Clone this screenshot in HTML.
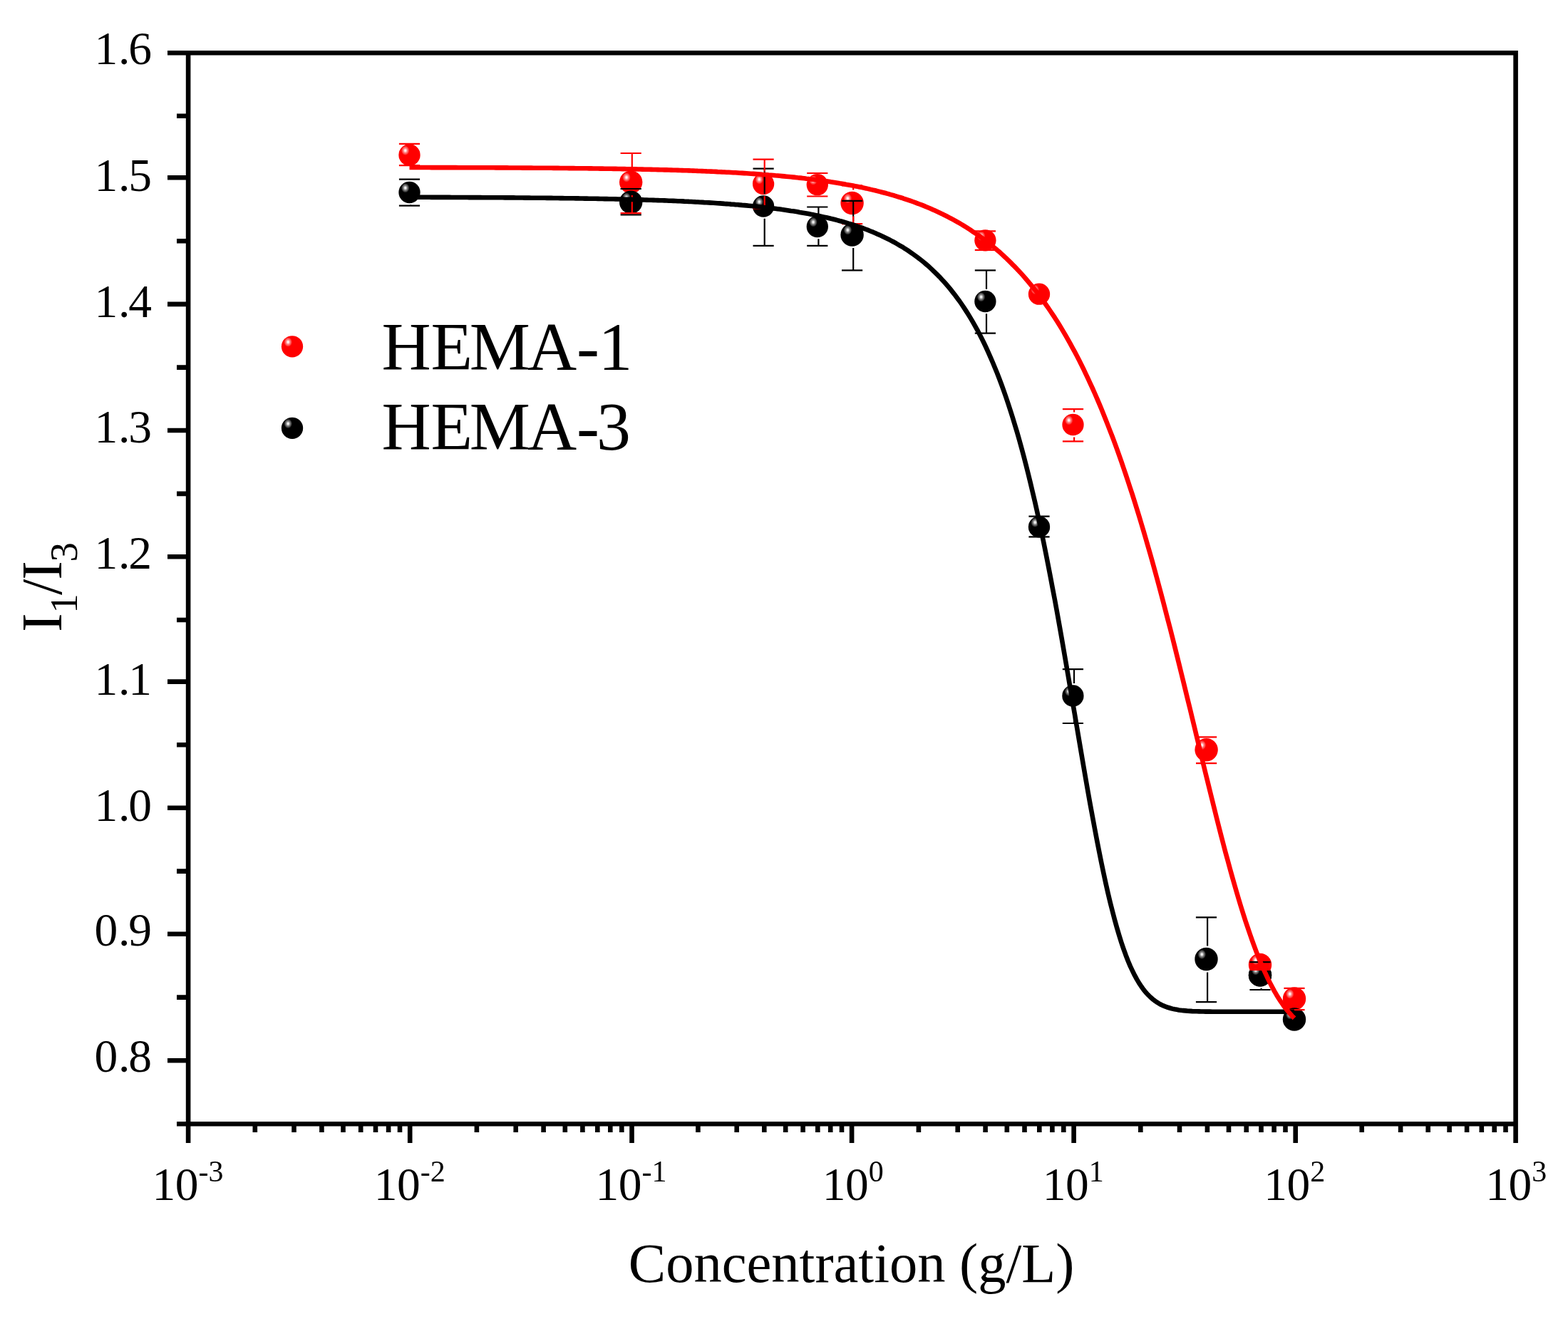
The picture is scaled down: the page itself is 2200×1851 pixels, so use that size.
<!DOCTYPE html>
<html lang="en"><head><meta charset="utf-8"><title>I1/I3 vs Concentration</title>
<style>html,body{margin:0;padding:0;background:#fff}body{width:2200px;height:1851px;overflow:hidden}svg{display:block}text{font-family:"Liberation Serif",serif;fill:#000}</style>
</head><body>
<svg width="2200" height="1851" viewBox="0 0 2200 1851">
<defs>
<radialGradient id="hl" cx="0.5" cy="0.5" r="0.5"><stop offset="0" stop-color="#fff" stop-opacity="1"/><stop offset="0.18" stop-color="#fff" stop-opacity="0.92"/><stop offset="0.45" stop-color="#fff" stop-opacity="0.55"/><stop offset="0.8" stop-color="#fff" stop-opacity="0.22"/><stop offset="1" stop-color="#fff" stop-opacity="0"/></radialGradient>
</defs>
<rect width="2200" height="1851" fill="#fff"/>
<g id="balls">
<circle cx="574.5" cy="217.5" r="15.15" fill="#f00"/><ellipse cx="568.7" cy="211.2" rx="5.8" ry="6.8" fill="url(#hl)"/>
<circle cx="885.2" cy="255.6" r="16.2" fill="#f00"/><ellipse cx="879.0" cy="248.9" rx="5.8" ry="6.8" fill="url(#hl)"/>
<circle cx="1071.1" cy="258.0" r="15.15" fill="#f00"/><ellipse cx="1065.3" cy="251.7" rx="5.8" ry="6.8" fill="url(#hl)"/>
<circle cx="1146.8" cy="259.2" r="15.15" fill="#f00"/><ellipse cx="1141.0" cy="252.9" rx="5.8" ry="6.8" fill="url(#hl)"/>
<circle cx="1195.6" cy="285.0" r="16.2" fill="#f00"/><ellipse cx="1189.4" cy="278.3" rx="5.8" ry="6.8" fill="url(#hl)"/>
<circle cx="1382.4" cy="337.3" r="15.15" fill="#f00"/><ellipse cx="1376.6" cy="331.0" rx="5.8" ry="6.8" fill="url(#hl)"/>
<circle cx="1458.0" cy="412.7" r="15.15" fill="#f00"/><ellipse cx="1452.2" cy="406.4" rx="5.8" ry="6.8" fill="url(#hl)"/>
<circle cx="1505.5" cy="596.0" r="15.15" fill="#f00"/><ellipse cx="1499.7" cy="589.7" rx="5.8" ry="6.8" fill="url(#hl)"/>
<circle cx="1692.6" cy="1052.3" r="16.2" fill="#f00"/><ellipse cx="1686.4" cy="1045.6" rx="5.8" ry="6.8" fill="url(#hl)"/>
<circle cx="1816.0" cy="1401.5" r="16.2" fill="#f00"/><ellipse cx="1809.8" cy="1394.8" rx="5.8" ry="6.8" fill="url(#hl)"/>
<circle cx="574.5" cy="270.0" r="15.15" fill="#000"/><ellipse cx="568.7" cy="263.7" rx="5.8" ry="6.8" fill="url(#hl)"/>
<circle cx="885.2" cy="283.7" r="16.2" fill="#000"/><ellipse cx="879.0" cy="277.0" rx="5.8" ry="6.8" fill="url(#hl)"/>
<circle cx="1071.1" cy="289.5" r="15.15" fill="#000"/><ellipse cx="1065.3" cy="283.2" rx="5.8" ry="6.8" fill="url(#hl)"/>
<circle cx="1146.8" cy="318.0" r="15.15" fill="#000"/><ellipse cx="1141.0" cy="311.7" rx="5.8" ry="6.8" fill="url(#hl)"/>
<circle cx="1195.6" cy="329.5" r="16.2" fill="#000"/><ellipse cx="1189.4" cy="322.8" rx="5.8" ry="6.8" fill="url(#hl)"/>
<circle cx="1382.4" cy="423.0" r="15.15" fill="#000"/><ellipse cx="1376.6" cy="416.7" rx="5.8" ry="6.8" fill="url(#hl)"/>
<circle cx="1458.0" cy="739.4" r="15.15" fill="#000"/><ellipse cx="1452.2" cy="733.1" rx="5.8" ry="6.8" fill="url(#hl)"/>
<circle cx="1505.4" cy="976.5" r="15.15" fill="#000"/><ellipse cx="1499.6" cy="970.2" rx="5.8" ry="6.8" fill="url(#hl)"/>
<circle cx="1692.5" cy="1346.0" r="16.2" fill="#000"/><ellipse cx="1686.3" cy="1339.3" rx="5.8" ry="6.8" fill="url(#hl)"/>
<circle cx="1768.0" cy="1368.4" r="16.2" fill="#000"/><ellipse cx="1761.8" cy="1361.7" rx="5.8" ry="6.8" fill="url(#hl)"/>
<circle cx="1816.0" cy="1430.5" r="16.2" fill="#000"/><ellipse cx="1809.8" cy="1423.8" rx="5.8" ry="6.8" fill="url(#hl)"/>
<clipPath id="c70"><rect x="1740" y="1362" width="60" height="40"/></clipPath>
<circle cx="1768.0" cy="1354.0" r="16.2" fill="#f00"/><ellipse cx="1761.8" cy="1347.3" rx="5.8" ry="6.8" fill="url(#hl)"/>
<g clip-path="url(#c70)"><circle cx="1768.0" cy="1368.4" r="16.2" fill="#000"/><ellipse cx="1761.8" cy="1361.7" rx="5.8" ry="6.8" fill="url(#hl)"/></g>
</g>
<path d="M559.9,251.6H589.1M559.9,288.6H589.1M576.1,251.6V252.7M576.1,287.3V288.6M870.6,265.0H899.8M870.6,301.4H899.8M886.8,265.0V265.3M1056.5,236.7H1085.7M1056.5,344.8H1085.7M1072.7,236.7V272.2M1072.7,306.8V344.8M1132.2,290.5H1161.4M1132.2,344.8H1161.4M1148.4,290.5V300.7M1148.4,335.3V344.8M1181.0,281.9H1210.2M1181.0,379.4H1210.2M1197.2,281.9V311.1M1197.2,347.9V379.4M1367.8,379.3H1397.0M1367.8,467.7H1397.0M1384.0,379.3V405.7M1384.0,440.3V467.7M1443.4,724.6H1472.6M1443.4,753.3H1472.6M1490.8,939.2H1520.0M1490.8,1015.0H1520.0M1507.0,939.2V959.1M1507.0,993.9V1015.0M1677.9,1287.4H1707.1M1677.9,1406.1H1707.1M1694.1,1287.4V1327.6M1694.1,1364.4V1406.1M1753.4,1350.1H1782.6M1753.4,1389.0H1782.6M1769.6,1386.8V1389.0" fill="none" stroke="#000" stroke-width="2.2"/>
<path d="M559.9,201.9H589.1M559.9,232.2H589.1M870.6,215.0H899.8M870.6,299.2H899.8M886.8,215.0V237.2M886.8,274.0V299.2M1056.5,223.6H1085.7M1056.5,292.5H1085.7M1072.7,223.6V240.7M1072.7,275.3V292.5M1132.2,243.0H1161.4M1132.2,275.5H1161.4M1181.0,260.3H1210.2M1181.0,314.2H1210.2M1197.2,260.3V266.6M1197.2,303.4V314.2M1367.8,324.4H1397.0M1367.8,350.9H1397.0M1490.9,574.1H1520.1M1490.9,619.3H1520.1M1507.1,574.1V578.6M1507.1,613.4V619.3M1678.0,1034.4H1707.2M1678.0,1071.2H1707.2M1694.2,1070.7V1071.2M1801.4,1386.9H1830.6M1801.4,1417.1H1830.6" fill="none" stroke="#f00" stroke-width="2.2"/>
<path d="M574.5,276.8 L577.6,276.8 L580.7,276.8 L583.8,276.8 L586.9,276.8 L590.1,276.8 L593.2,276.8 L596.3,276.8 L599.4,276.8 L602.5,276.8 L605.6,276.9 L608.7,276.9 L611.8,276.9 L614.9,276.9 L618.1,276.9 L621.2,276.9 L624.3,276.9 L627.4,276.9 L630.5,276.9 L633.6,277.0 L636.7,277.0 L639.8,277.0 L643.0,277.0 L646.1,277.0 L649.2,277.0 L652.3,277.0 L655.4,277.0 L658.5,277.1 L661.6,277.1 L664.7,277.1 L667.8,277.1 L671.0,277.1 L674.1,277.1 L677.2,277.2 L680.3,277.2 L683.4,277.2 L686.5,277.2 L689.6,277.2 L692.7,277.2 L695.8,277.3 L699.0,277.3 L702.1,277.3 L705.2,277.3 L708.3,277.4 L711.4,277.4 L714.5,277.4 L717.6,277.4 L720.7,277.4 L723.9,277.5 L727.0,277.5 L730.1,277.5 L733.2,277.5 L736.3,277.6 L739.4,277.6 L742.5,277.6 L745.6,277.7 L748.7,277.7 L751.9,277.7 L755.0,277.7 L758.1,277.8 L761.2,277.8 L764.3,277.8 L767.4,277.9 L770.5,277.9 L773.6,277.9 L776.7,278.0 L779.9,278.0 L783.0,278.0 L786.1,278.1 L789.2,278.1 L792.3,278.2 L795.4,278.2 L798.5,278.3 L801.6,278.3 L804.8,278.3 L807.9,278.4 L811.0,278.4 L814.1,278.5 L817.2,278.5 L820.3,278.6 L823.4,278.6 L826.5,278.7 L829.6,278.7 L832.8,278.8 L835.9,278.8 L839.0,278.9 L842.1,279.0 L845.2,279.0 L848.3,279.1 L851.4,279.1 L854.5,279.2 L857.6,279.3 L860.8,279.3 L863.9,279.4 L867.0,279.5 L870.1,279.5 L873.2,279.6 L876.3,279.7 L879.4,279.8 L882.5,279.9 L885.7,279.9 L888.8,280.0 L891.9,280.1 L895.0,280.2 L898.1,280.3 L901.2,280.4 L904.3,280.5 L907.4,280.6 L910.5,280.7 L913.7,280.8 L916.8,280.9 L919.9,281.0 L923.0,281.1 L926.1,281.2 L929.2,281.3 L932.3,281.4 L935.4,281.5 L938.5,281.7 L941.7,281.8 L944.8,281.9 L947.9,282.0 L951.0,282.2 L954.1,282.3 L957.2,282.4 L960.3,282.6 L963.4,282.7 L966.6,282.9 L969.7,283.0 L972.8,283.2 L975.9,283.4 L979.0,283.5 L982.1,283.7 L985.2,283.9 L988.3,284.1 L991.4,284.2 L994.6,284.4 L997.7,284.6 L1000.8,284.8 L1003.9,285.0 L1007.0,285.2 L1010.1,285.4 L1013.2,285.6 L1016.3,285.9 L1019.4,286.1 L1022.6,286.3 L1025.7,286.6 L1028.8,286.8 L1031.9,287.1 L1035.0,287.3 L1038.1,287.6 L1041.2,287.9 L1044.3,288.1 L1047.5,288.4 L1050.6,288.7 L1053.7,289.0 L1056.8,289.3 L1059.9,289.6 L1063.0,289.9 L1066.1,290.3 L1069.2,290.6 L1072.3,291.0 L1075.5,291.3 L1078.6,291.7 L1081.7,292.0 L1084.8,292.4 L1087.9,292.8 L1091.0,293.2 L1094.1,293.6 L1097.2,294.1 L1100.3,294.5 L1103.5,294.9 L1106.6,295.4 L1109.7,295.9 L1112.8,296.3 L1115.9,296.8 L1119.0,297.3 L1122.1,297.9 L1125.2,298.4 L1128.4,298.9 L1131.5,299.5 L1134.6,300.1 L1137.7,300.7 L1140.8,301.3 L1143.9,301.9 L1147.0,302.5 L1150.1,303.2 L1153.2,303.9 L1156.4,304.6 L1159.5,305.3 L1162.6,306.0 L1165.7,306.8 L1168.8,307.5 L1171.9,308.3 L1175.0,309.1 L1178.1,310.0 L1181.2,310.8 L1184.4,311.7 L1187.5,312.6 L1190.6,313.6 L1193.7,314.5 L1196.8,315.5 L1199.9,316.5 L1203.0,317.6 L1206.1,318.6 L1209.3,319.7 L1212.4,320.9 L1215.5,322.0 L1218.6,323.2 L1221.7,324.5 L1224.8,325.7 L1227.9,327.0 L1231.0,328.4 L1234.1,329.8 L1237.3,331.2 L1240.4,332.7 L1243.5,334.2 L1246.6,335.7 L1249.7,337.4 L1252.8,339.0 L1255.9,340.7 L1259.0,342.5 L1262.1,344.3 L1265.3,346.1 L1268.4,348.1 L1271.5,350.0 L1274.6,352.1 L1277.7,354.2 L1280.8,356.4 L1283.9,358.6 L1287.0,360.9 L1290.2,363.3 L1293.3,365.8 L1296.4,368.3 L1299.5,370.9 L1302.6,373.6 L1305.7,376.4 L1308.8,379.3 L1311.9,382.3 L1315.0,385.4 L1318.2,388.6 L1321.3,391.9 L1324.4,395.3 L1327.5,398.8 L1330.6,402.4 L1333.7,406.2 L1336.8,410.1 L1339.9,414.1 L1343.0,418.2 L1346.2,422.5 L1349.3,427.0 L1352.4,431.6 L1355.5,436.4 L1358.6,441.3 L1361.7,446.4 L1364.8,451.7 L1367.9,457.1 L1371.1,462.8 L1374.2,468.7 L1377.3,474.7 L1380.4,481.0 L1383.5,487.5 L1386.6,494.3 L1389.7,501.3 L1392.8,508.5 L1395.9,516.0 L1399.1,523.7 L1402.2,531.7 L1405.3,540.0 L1408.4,548.6 L1411.5,557.5 L1414.6,566.7 L1417.7,576.2 L1420.8,586.1 L1423.9,596.2 L1427.1,606.8 L1430.2,617.6 L1433.3,628.8 L1436.4,640.4 L1439.5,652.4 L1442.6,664.7 L1445.7,677.4 L1448.8,690.5 L1452.0,704.0 L1455.1,717.8 L1458.2,732.1 L1461.3,746.7 L1464.4,761.7 L1467.5,777.1 L1470.6,792.8 L1473.7,808.9 L1476.8,825.3 L1480.0,842.0 L1483.1,859.0 L1486.2,876.3 L1489.3,893.9 L1492.4,911.7 L1495.5,929.7 L1498.6,947.8 L1501.7,966.1 L1504.8,984.4 L1508.0,1002.9 L1511.1,1021.3 L1514.2,1039.6 L1517.3,1057.9 L1520.4,1076.0 L1523.5,1094.0 L1526.6,1111.7 L1529.7,1129.2 L1532.9,1146.3 L1536.0,1163.0 L1539.1,1179.4 L1542.2,1195.2 L1545.3,1210.6 L1548.4,1225.4 L1551.5,1239.7 L1554.6,1253.4 L1557.7,1266.5 L1560.9,1279.0 L1564.0,1290.8 L1567.1,1302.0 L1570.2,1312.5 L1573.3,1322.4 L1576.4,1331.6 L1579.5,1340.2 L1582.6,1348.2 L1585.7,1355.6 L1588.9,1362.4 L1592.0,1368.7 L1595.1,1374.4 L1598.2,1379.6 L1601.3,1384.3 L1604.4,1388.6 L1607.5,1392.5 L1610.6,1395.9 L1613.8,1399.0 L1616.9,1401.8 L1620.0,1404.2 L1623.1,1406.4 L1626.2,1408.3 L1629.3,1410.0 L1632.4,1411.4 L1635.5,1412.7 L1638.6,1413.8 L1641.8,1414.7 L1644.9,1415.6 L1648.0,1416.3 L1651.1,1416.8 L1654.2,1417.4 L1657.3,1417.8 L1660.4,1418.1 L1663.5,1418.4 L1666.6,1418.7 L1669.8,1418.9 L1672.9,1419.1 L1676.0,1419.2 L1679.1,1419.3 L1682.2,1419.4 L1685.3,1419.5 L1688.4,1419.5 L1691.5,1419.6 L1694.7,1419.6 L1697.8,1419.6 L1700.9,1419.7 L1704.0,1419.7 L1707.1,1419.7 L1710.2,1419.7 L1713.3,1419.7 L1716.4,1419.7 L1719.5,1419.7 L1722.7,1419.7 L1725.8,1419.7 L1728.9,1419.7 L1732.0,1419.7 L1735.1,1419.7 L1738.2,1419.7 L1741.3,1419.7 L1744.4,1419.7 L1747.5,1419.7 L1750.7,1419.7 L1753.8,1419.7 L1756.9,1419.7 L1760.0,1419.7 L1763.1,1419.7 L1766.2,1419.7 L1769.3,1419.7 L1772.4,1419.7 L1775.6,1419.7 L1778.7,1419.7 L1781.8,1419.7 L1784.9,1419.7 L1788.0,1419.7 L1791.1,1419.7 L1794.2,1419.7 L1797.3,1419.7 L1800.4,1419.7 L1803.6,1419.7 L1806.7,1419.7 L1809.8,1419.7 L1812.9,1419.7 L1816.0,1419.7" fill="none" stroke="#000" stroke-width="6.6" stroke-linejoin="round"/>
<path d="M574.5,235.0 L577.6,235.0 L580.7,235.0 L583.8,235.0 L586.9,235.0 L590.1,235.0 L593.2,235.0 L596.3,235.0 L599.4,235.0 L602.5,235.0 L605.6,235.1 L608.7,235.1 L611.8,235.1 L614.9,235.1 L618.1,235.1 L621.2,235.1 L624.3,235.1 L627.4,235.1 L630.5,235.1 L633.6,235.1 L636.7,235.1 L639.8,235.1 L643.0,235.2 L646.1,235.2 L649.2,235.2 L652.3,235.2 L655.4,235.2 L658.5,235.2 L661.6,235.2 L664.7,235.2 L667.8,235.2 L671.0,235.3 L674.1,235.3 L677.2,235.3 L680.3,235.3 L683.4,235.3 L686.5,235.3 L689.6,235.3 L692.7,235.3 L695.8,235.4 L699.0,235.4 L702.1,235.4 L705.2,235.4 L708.3,235.4 L711.4,235.4 L714.5,235.5 L717.6,235.5 L720.7,235.5 L723.9,235.5 L727.0,235.5 L730.1,235.5 L733.2,235.6 L736.3,235.6 L739.4,235.6 L742.5,235.6 L745.6,235.6 L748.7,235.7 L751.9,235.7 L755.0,235.7 L758.1,235.7 L761.2,235.8 L764.3,235.8 L767.4,235.8 L770.5,235.8 L773.6,235.8 L776.7,235.9 L779.9,235.9 L783.0,235.9 L786.1,236.0 L789.2,236.0 L792.3,236.0 L795.4,236.0 L798.5,236.1 L801.6,236.1 L804.8,236.1 L807.9,236.2 L811.0,236.2 L814.1,236.2 L817.2,236.3 L820.3,236.3 L823.4,236.3 L826.5,236.4 L829.6,236.4 L832.8,236.5 L835.9,236.5 L839.0,236.5 L842.1,236.6 L845.2,236.6 L848.3,236.7 L851.4,236.7 L854.5,236.8 L857.6,236.8 L860.8,236.9 L863.9,236.9 L867.0,237.0 L870.1,237.0 L873.2,237.1 L876.3,237.1 L879.4,237.2 L882.5,237.2 L885.7,237.3 L888.8,237.4 L891.9,237.4 L895.0,237.5 L898.1,237.5 L901.2,237.6 L904.3,237.7 L907.4,237.8 L910.5,237.8 L913.7,237.9 L916.8,238.0 L919.9,238.0 L923.0,238.1 L926.1,238.2 L929.2,238.3 L932.3,238.4 L935.4,238.4 L938.5,238.5 L941.7,238.6 L944.8,238.7 L947.9,238.8 L951.0,238.9 L954.1,239.0 L957.2,239.1 L960.3,239.2 L963.4,239.3 L966.6,239.4 L969.7,239.5 L972.8,239.6 L975.9,239.7 L979.0,239.9 L982.1,240.0 L985.2,240.1 L988.3,240.2 L991.4,240.4 L994.6,240.5 L997.7,240.6 L1000.8,240.8 L1003.9,240.9 L1007.0,241.1 L1010.1,241.2 L1013.2,241.4 L1016.3,241.5 L1019.4,241.7 L1022.6,241.8 L1025.7,242.0 L1028.8,242.2 L1031.9,242.3 L1035.0,242.5 L1038.1,242.7 L1041.2,242.9 L1044.3,243.1 L1047.5,243.3 L1050.6,243.5 L1053.7,243.7 L1056.8,243.9 L1059.9,244.1 L1063.0,244.3 L1066.1,244.5 L1069.2,244.8 L1072.3,245.0 L1075.5,245.2 L1078.6,245.5 L1081.7,245.7 L1084.8,246.0 L1087.9,246.3 L1091.0,246.5 L1094.1,246.8 L1097.2,247.1 L1100.3,247.4 L1103.5,247.7 L1106.6,248.0 L1109.7,248.3 L1112.8,248.6 L1115.9,248.9 L1119.0,249.3 L1122.1,249.6 L1125.2,249.9 L1128.4,250.3 L1131.5,250.7 L1134.6,251.0 L1137.7,251.4 L1140.8,251.8 L1143.9,252.2 L1147.0,252.6 L1150.1,253.0 L1153.2,253.5 L1156.4,253.9 L1159.5,254.3 L1162.6,254.8 L1165.7,255.3 L1168.8,255.7 L1171.9,256.2 L1175.0,256.7 L1178.1,257.3 L1181.2,257.8 L1184.4,258.3 L1187.5,258.9 L1190.6,259.4 L1193.7,260.0 L1196.8,260.6 L1199.9,261.2 L1203.0,261.8 L1206.1,262.5 L1209.3,263.1 L1212.4,263.8 L1215.5,264.4 L1218.6,265.1 L1221.7,265.9 L1224.8,266.6 L1227.9,267.3 L1231.0,268.1 L1234.1,268.9 L1237.3,269.7 L1240.4,270.5 L1243.5,271.3 L1246.6,272.2 L1249.7,273.1 L1252.8,273.9 L1255.9,274.9 L1259.0,275.8 L1262.1,276.8 L1265.3,277.7 L1268.4,278.8 L1271.5,279.8 L1274.6,280.8 L1277.7,281.9 L1280.8,283.0 L1283.9,284.1 L1287.0,285.3 L1290.2,286.5 L1293.3,287.7 L1296.4,288.9 L1299.5,290.2 L1302.6,291.5 L1305.7,292.8 L1308.8,294.2 L1311.9,295.6 L1315.0,297.0 L1318.2,298.5 L1321.3,299.9 L1324.4,301.5 L1327.5,303.0 L1330.6,304.6 L1333.7,306.3 L1336.8,307.9 L1339.9,309.6 L1343.0,311.4 L1346.2,313.2 L1349.3,315.0 L1352.4,316.9 L1355.5,318.8 L1358.6,320.8 L1361.7,322.8 L1364.8,324.9 L1367.9,327.0 L1371.1,329.1 L1374.2,331.3 L1377.3,333.6 L1380.4,335.9 L1383.5,338.3 L1386.6,340.7 L1389.7,343.1 L1392.8,345.7 L1395.9,348.3 L1399.1,350.9 L1402.2,353.6 L1405.3,356.4 L1408.4,359.2 L1411.5,362.1 L1414.6,365.1 L1417.7,368.2 L1420.8,371.3 L1423.9,374.4 L1427.1,377.7 L1430.2,381.0 L1433.3,384.4 L1436.4,387.9 L1439.5,391.5 L1442.6,395.1 L1445.7,398.9 L1448.8,402.7 L1452.0,406.6 L1455.1,410.6 L1458.2,414.6 L1461.3,418.8 L1464.4,423.1 L1467.5,427.5 L1470.6,431.9 L1473.7,436.5 L1476.8,441.1 L1480.0,445.9 L1483.1,450.8 L1486.2,455.8 L1489.3,460.9 L1492.4,466.1 L1495.5,471.4 L1498.6,476.8 L1501.7,482.4 L1504.8,488.1 L1508.0,493.9 L1511.1,499.8 L1514.2,505.8 L1517.3,512.0 L1520.4,518.3 L1523.5,524.8 L1526.6,531.4 L1529.7,538.1 L1532.9,545.0 L1536.0,552.0 L1539.1,559.1 L1542.2,566.4 L1545.3,573.8 L1548.4,581.4 L1551.5,589.2 L1554.6,597.1 L1557.7,605.1 L1560.9,613.3 L1564.0,621.7 L1567.1,630.2 L1570.2,638.9 L1573.3,647.7 L1576.4,656.7 L1579.5,665.9 L1582.6,675.2 L1585.7,684.7 L1588.9,694.4 L1592.0,704.2 L1595.1,714.2 L1598.2,724.3 L1601.3,734.6 L1604.4,745.0 L1607.5,755.7 L1610.6,766.4 L1613.8,777.4 L1616.9,788.4 L1620.0,799.6 L1623.1,811.0 L1626.2,822.5 L1629.3,834.2 L1632.4,845.9 L1635.5,857.8 L1638.6,869.9 L1641.8,882.0 L1644.9,894.3 L1648.0,906.6 L1651.1,919.1 L1654.2,931.6 L1657.3,944.2 L1660.4,956.9 L1663.5,969.6 L1666.6,982.4 L1669.8,995.3 L1672.9,1008.2 L1676.0,1021.0 L1679.1,1033.9 L1682.2,1046.8 L1685.3,1059.7 L1688.4,1072.6 L1691.5,1085.3 L1694.7,1098.1 L1697.8,1110.8 L1700.9,1123.3 L1704.0,1135.8 L1707.1,1148.2 L1710.2,1160.5 L1713.3,1172.6 L1716.4,1184.5 L1719.5,1196.3 L1722.7,1207.9 L1725.8,1219.3 L1728.9,1230.5 L1732.0,1241.4 L1735.1,1252.2 L1738.2,1262.6 L1741.3,1272.9 L1744.4,1282.8 L1747.5,1292.5 L1750.7,1301.9 L1753.8,1311.0 L1756.9,1319.9 L1760.0,1328.4 L1763.1,1336.6 L1766.2,1344.4 L1769.3,1352.0 L1772.4,1359.3 L1775.6,1366.2 L1778.7,1372.8 L1781.8,1379.1 L1784.9,1385.1 L1788.0,1390.8 L1791.1,1396.2 L1794.2,1401.2 L1797.3,1406.0 L1800.4,1410.5 L1803.6,1414.7 L1806.7,1418.6 L1809.8,1422.3 L1812.9,1425.7 L1816.0,1428.9" fill="none" stroke="#f00" stroke-width="6.6" stroke-linejoin="round"/>
<path d="M235.0,74.3H2129.90M248.0,1577.3H2129.90M264.1,71.00V1604.0M2126.6,71.00V1604.0M235.0,249.3H264.1M235.0,426.9H264.1M235.0,604.0H264.1M235.0,781.3H264.1M235.0,956.6H264.1M235.0,1133.8H264.1M235.0,1310.7H264.1M235.0,1488.3H264.1M248.0,162.7H264.1M248.0,338.2H264.1M248.0,515.6H264.1M248.0,692.9H264.1M248.0,870.0H264.1M248.0,1045.3H264.1M248.0,1222.6H264.1M248.0,1399.6H264.1M575.2,1577.3V1604.0M886.5,1577.3V1604.0M1195.1,1577.3V1604.0M1506.6,1577.3V1604.0M1817.7,1577.3V1604.0M357.8,1577.3V1589.0M412.5,1577.3V1589.0M451.4,1577.3V1589.0M481.5,1577.3V1589.0M506.2,1577.3V1589.0M527.0,1577.3V1589.0M545.1,1577.3V1589.0M561.0,1577.3V1589.0M668.9,1577.3V1589.0M723.7,1577.3V1589.0M762.6,1577.3V1589.0M792.8,1577.3V1589.0M817.4,1577.3V1589.0M838.3,1577.3V1589.0M856.3,1577.3V1589.0M872.3,1577.3V1589.0M979.4,1577.3V1589.0M1033.7,1577.3V1589.0M1072.3,1577.3V1589.0M1102.2,1577.3V1589.0M1126.6,1577.3V1589.0M1147.3,1577.3V1589.0M1165.2,1577.3V1589.0M1181.0,1577.3V1589.0M1288.9,1577.3V1589.0M1343.7,1577.3V1589.0M1382.6,1577.3V1589.0M1412.8,1577.3V1589.0M1437.5,1577.3V1589.0M1458.3,1577.3V1589.0M1476.4,1577.3V1589.0M1492.3,1577.3V1589.0M1600.3,1577.3V1589.0M1655.0,1577.3V1589.0M1693.9,1577.3V1589.0M1724.0,1577.3V1589.0M1748.7,1577.3V1589.0M1769.5,1577.3V1589.0M1787.6,1577.3V1589.0M1803.5,1577.3V1589.0M1910.7,1577.3V1589.0M1965.1,1577.3V1589.0M2003.7,1577.3V1589.0M2033.6,1577.3V1589.0M2058.1,1577.3V1589.0M2078.8,1577.3V1589.0M2096.7,1577.3V1589.0M2112.5,1577.3V1589.0" fill="none" stroke="#000" stroke-width="6.6" shape-rendering="geometricPrecision"/>
<g font-size="65.5">
<text x="132.6 166 180.3" y="90.4">1.6</text>
<text x="132.6 166 180.3" y="267.6">1.5</text>
<text x="132.6 166 180.3" y="444.8">1.4</text>
<text x="132.6 166 180.3" y="620.6">1.3</text>
<text x="132.6 166 180.3" y="797.9">1.2</text>
<text x="132.6 166 180.3" y="975.0">1.1</text>
<text x="132.6 166 180.3" y="1152.0">1.0</text>
<text x="132.6 166 180.3" y="1326.8">0.9</text>
<text x="132.6 166 180.3" y="1503.9">0.8</text>
</g>
<g font-size="65.5">
<text x="213.6 245.8" y="1684.0">10<tspan x="278.6" font-size="42" dy="-25.8">-3</tspan></text>
<text x="524.7 556.9" y="1684.0">10<tspan x="589.7" font-size="42" dy="-25.8">-2</tspan></text>
<text x="835.6 867.8" y="1684.0">10<tspan x="900.6" font-size="42" dy="-25.8">-1</tspan></text>
<text x="1153.8 1186.0" y="1684.0">10<tspan x="1218.8" font-size="42" dy="-25.8">0</tspan></text>
<text x="1462.7 1494.9" y="1684.0">10<tspan x="1527.7" font-size="42" dy="-25.8">1</tspan></text>
<text x="1773.2 1805.4" y="1684.0">10<tspan x="1838.2" font-size="42" dy="-25.8">2</tspan></text>
<text x="2084.3 2116.5" y="1684.0">10<tspan x="2149.3" font-size="42" dy="-25.8">3</tspan></text>
</g>
<text x="1194.6" y="1798.8" font-size="78.5" text-anchor="middle" letter-spacing="0">Concentration (g/L)</text>
<text transform="translate(86.1,887.0) rotate(-90)" font-size="80"><tspan x="0" y="0">I</tspan><tspan x="26.2" y="21.7" font-size="55">1</tspan><tspan x="52.05" y="0">/</tspan><tspan x="73.35" y="0">I</tspan><tspan x="98.55" y="21.7" font-size="55">3</tspan></text>
<circle cx="410.0" cy="486.3" r="15.15" fill="#f00"/><ellipse cx="404.2" cy="480.0" rx="5.8" ry="6.8" fill="url(#hl)"/>
<circle cx="410.0" cy="600.8" r="15.15" fill="#000"/><ellipse cx="404.2" cy="594.5" rx="5.8" ry="6.8" fill="url(#hl)"/>
<text x="535.5 604.6 658.7 740 808.9 839.4" y="518.7" font-size="95.8">HEMA-1</text>
<text x="535.5 604.6 658.7 740 808.9 837" y="630.7" font-size="95.8">HEMA-3</text>
</svg>
</body></html>
